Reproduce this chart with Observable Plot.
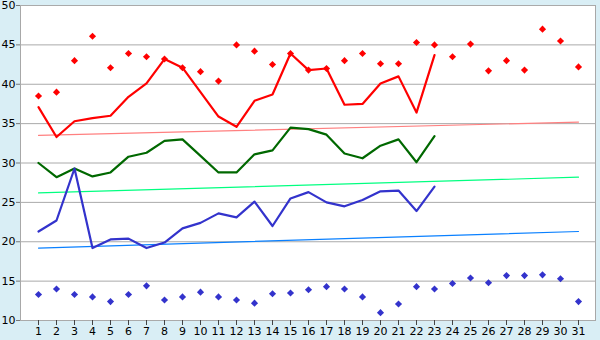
<!DOCTYPE html>
<html>
<head>
<meta charset="utf-8">
<script src="https://cdn.jsdelivr.net/npm/d3@7"></script>
<script src="https://cdn.jsdelivr.net/npm/@observablehq/plot@0.6"></script>
<style>
  html, body { margin: 0; padding: 0; background: #d9eef5; }
  #chart svg { display: block; overflow: visible; }
</style>
</head>
<body>
<div id="chart"></div>
<script>
const days = d3.range(1, 32);
const yTicks = [10, 15, 20, 25, 30, 35, 40, 45, 50];

// Record highs (red diamonds), days 1..31
const recordHigh = [38.5, 39.0, 43.0, 46.1, 42.1, 43.9, 43.5, 43.2, 42.1, 41.6,
  40.4, 45.0, 44.2, 42.5, 43.9, 41.8, 42.0, 43.0, 43.9, 42.6,
  42.6, 45.3, 45.0, 43.5, 45.1, 41.7, 43.0, 41.8, 47.0, 45.5, 42.2];
// Record lows (blue diamonds)
const recordLow = [13.3, 14.0, 13.3, 13.0, 12.4, 13.3, 14.4, 12.6, 13.0, 13.6,
  13.0, 12.6, 12.2, 13.4, 13.5, 13.9, 14.3, 14.0, 13.0, 11.0,
  12.1, 14.3, 14.0, 14.7, 15.4, 14.8, 15.7, 15.7, 15.8, 15.3, 12.4];
// Observed daily max / mean / min, days 1..23
const obsMax = [37.1, 33.3, 35.3, 35.7, 36.0, 38.4, 40.1, 43.2, 42.1, 39.0,
  35.9, 34.6, 37.9, 38.7, 43.9, 41.8, 42.0, 37.4, 37.5, 40.1,
  41.0, 36.4, 43.7];
const obsMean = [30.0, 28.2, 29.3, 28.3, 28.8, 30.8, 31.3, 32.8, 33.0, 30.9,
  28.8, 28.8, 31.1, 31.6, 34.5, 34.3, 33.6, 31.2, 30.6, 32.2,
  33.0, 30.1, 33.4];
const obsMin = [21.3, 22.7, 29.3, 19.2, 20.3, 20.4, 19.2, 19.9, 21.7, 22.4,
  23.6, 23.1, 25.1, 22.0, 25.5, 26.3, 25.0, 24.5, 25.3, 26.4,
  26.5, 23.9, 27.0];
// Normal (trend) lines: endpoints at day 1 and day 31
const trendDays = [1, 31];
const normalMax = [33.5, 35.2];
const normalMean = [26.2, 28.2];
const normalMin = [19.2, 21.3];

const rows = (xs, ys) => ys.map((v, i) => ({day: xs[i], v}));

const chart = Plot.plot({
  width: 600,
  height: 340,
  marginLeft: 20,
  marginRight: 5,
  marginTop: 5,
  marginBottom: 20,
  style: {background: "#d9eef5", fontFamily: "DejaVu Sans, Verdana, sans-serif", fontSize: "11px", color: "#000"},
  x: {type: "point", domain: days, padding: 0.5, label: null},
  y: {domain: [10, 50], label: null},
  marks: [
    Plot.frame({fill: "white", stroke: "#a8a8a8"}),
    Plot.gridY(yTicks, {stroke: "#aaaaaa", strokeOpacity: 1, strokeWidth: 1}),
    Plot.line(rows(trendDays, normalMax), {x: "day", y: "v", stroke: "#ff8080", strokeWidth: 1.2}),
    Plot.line(rows(trendDays, normalMean), {x: "day", y: "v", stroke: "#00ff80", strokeWidth: 1.2}),
    Plot.line(rows(trendDays, normalMin), {x: "day", y: "v", stroke: "#0a80ff", strokeWidth: 1.2}),
    Plot.line(rows(days, obsMax), {x: "day", y: "v", stroke: "#ff0000", strokeWidth: 2.2}),
    Plot.line(rows(days, obsMean), {x: "day", y: "v", stroke: "#006800", strokeWidth: 2.2}),
    Plot.line(rows(days, obsMin), {x: "day", y: "v", stroke: "#3333cc", strokeWidth: 2.2}),
    Plot.dot(rows(days, recordHigh), {x: "day", y: "v", symbol: "diamond2", r: 3.2, fill: "#ff0000", stroke: "none"}),
    Plot.dot(rows(days, recordLow), {x: "day", y: "v", symbol: "diamond2", r: 3.2, fill: "#3333cc", stroke: "none"}),
    Plot.axisX(days, {tickSize: 5, tickPadding: 2, stroke: "#444", fill: "#000", fontSize: 11, label: null}),
    Plot.axisY(yTicks, {tickSize: 4, tickPadding: 1, stroke: "#777", fill: "#000", fontSize: 11, label: null})
  ]
});
document.getElementById("chart").appendChild(chart);
</script>
</body>
</html>
